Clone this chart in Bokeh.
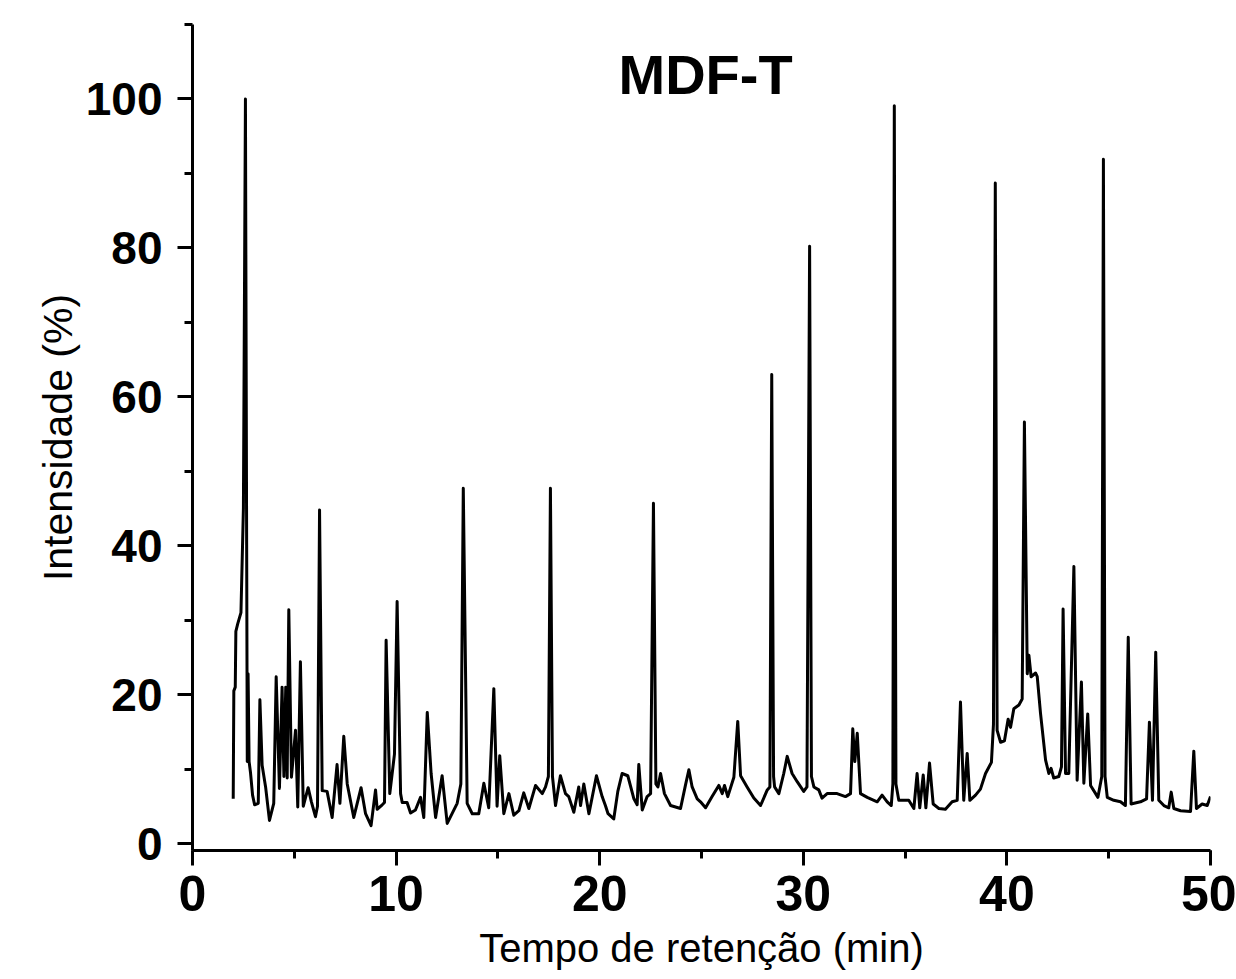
from bokeh.plotting import figure
from bokeh.models import Range1d, Label, SingleIntervalTicker
from bokeh.embed import file_html
from bokeh.resources import INLINE

# Retention time (min) and relative intensity (%)
tempo = [
    2.00, 2.03, 2.10, 2.13, 2.22, 2.38, 2.50, 2.60, 2.66, 2.69, 2.73, 2.78, 2.85, 2.95, 3.05, 3.23, 3.31,
    3.42, 3.59, 3.78, 3.99, 4.11, 4.27, 4.40, 4.49, 4.58, 4.65, 4.73, 4.86, 5.06, 5.17, 5.30,
    5.44, 5.68, 5.84, 6.04, 6.14, 6.24, 6.37, 6.61, 6.86, 7.10, 7.24, 7.43, 7.60, 7.92, 8.28,
    8.50, 8.77, 8.99, 9.07, 9.32, 9.43, 9.51, 9.69, 9.92, 10.05, 10.22, 10.30, 10.54, 10.71,
    10.95, 11.20, 11.36, 11.53, 11.72, 11.94, 12.26, 12.51, 13.00, 13.18, 13.30, 13.49, 13.74,
    14.06, 14.31, 14.55, 14.80, 14.96, 15.09, 15.29, 15.54, 15.78, 16.03, 16.27, 16.52, 16.85,
    17.18, 17.34, 17.48, 17.58, 17.68, 17.83, 18.07, 18.32, 18.48, 18.73, 18.97, 19.06, 19.22, 19.47,
    19.84, 20.12, 20.28, 20.41, 20.69, 20.89, 21.10, 21.38, 21.68, 21.84, 21.92, 22.09, 22.33,
    22.50, 22.64, 22.76, 22.86, 22.99, 23.18, 23.48, 23.97, 24.21, 24.38, 24.54, 24.79, 24.95,
    25.20, 25.52, 25.85, 26.02, 26.13, 26.29, 26.59, 26.78, 26.92, 27.24, 27.57, 27.90, 28.23,
    28.36, 28.45, 28.54, 28.59, 28.80, 29.04, 29.21, 29.45, 29.70, 30.02, 30.18, 30.31, 30.40, 30.52,
    30.76, 30.92, 31.17, 31.66, 32.07, 32.32, 32.43, 32.53, 32.65, 32.81, 33.14, 33.63, 33.87,
    34.12, 34.32, 34.40, 34.47, 34.55, 34.69, 35.18, 35.43, 35.59, 35.72, 35.89, 36.02, 36.20, 36.38,
    36.66, 36.98, 37.31, 37.56, 37.72, 37.88, 38.05, 38.18, 38.46, 38.70, 38.95, 39.24, 39.34,
    39.43, 39.52, 39.69, 39.88, 40.06, 40.18, 40.34, 40.59, 40.75, 40.86, 41.00, 41.08, 41.19,
    41.41, 41.49, 41.65, 41.90, 42.06, 42.17, 42.30, 42.55, 42.68, 42.76, 42.88, 43.04, 43.29,
    43.45, 43.66, 43.78, 43.97, 44.11, 44.47, 44.66, 44.74, 44.82, 44.93, 45.25, 45.58, 45.82, 45.96,
    46.10, 46.56, 46.86, 47.00, 47.15, 47.31, 47.46, 47.71, 47.95, 48.07, 48.20, 48.53, 49.02,
    49.18, 49.31, 49.59, 49.84, 50.00,
]
intensidade = [
    6.0, 20.5, 21.0, 28.5, 29.5, 31.0, 45.0, 100.0, 40.0, 11.0, 22.8, 11.0, 9.5, 6.5, 5.2, 5.4, 19.3,
    10.5, 7.6, 3.1, 5.4, 22.4, 7.4, 21.0, 9.0, 21.0, 8.8, 31.4, 8.9, 15.2, 4.9, 24.4,
    5.0, 7.5, 5.6, 3.6, 5.0, 44.8, 7.1, 7.0, 3.5, 10.6, 5.4, 14.4, 8.0, 3.5, 7.5,
    4.0, 2.4, 7.2, 4.6, 5.2, 5.5, 27.3, 6.7, 12.0, 32.5, 6.7, 5.5, 5.5, 4.1,
    4.5, 6.2, 3.5, 17.6, 9.4, 3.5, 9.1, 2.7, 5.4, 8.0, 47.7, 5.4, 4.0,
    4.0, 8.1, 4.8, 20.8, 5.0, 11.8, 4.0, 6.7, 3.8, 4.4, 6.8, 4.7, 7.8,
    6.7, 7.6, 9.0, 47.7, 9.0, 5.1, 9.1, 6.7, 6.3, 4.2, 7.6, 5.1, 8.0, 4.0,
    9.1, 6.3, 5.1, 4.0, 3.3, 7.0, 9.4, 9.1, 6.0, 5.2, 10.6, 4.5, 6.3,
    6.7, 45.7, 8.0, 7.6, 9.4, 6.7, 5.1, 4.7, 7.8, 9.9, 7.6, 6.0, 5.6,
    4.8, 6.3, 7.8, 6.7, 7.8, 6.3, 8.9, 16.4, 9.1, 7.6, 6.1, 5.1, 7.2,
    7.6, 63.0, 9.0, 7.6, 6.7, 9.4, 11.7, 9.4, 8.3, 7.0, 7.6, 80.2, 9.0, 7.6,
    7.2, 6.1, 6.7, 6.7, 6.3, 6.7, 15.4, 11.0, 14.8, 6.7, 6.2, 5.6, 6.5,
    5.6, 5.1, 8.0, 99.1, 8.0, 5.8, 5.8, 4.7, 9.4, 4.8, 9.2, 4.8, 10.8, 5.3,
    4.7, 4.6, 5.6, 5.8, 19.0, 5.8, 12.1, 5.8, 6.5, 7.3, 9.4, 10.9, 16.0,
    88.7, 15.2, 13.6, 13.8, 16.7, 15.6, 18.1, 18.6, 19.4, 56.6, 22.8, 25.3, 22.4,
    22.9, 22.4, 17.5, 11.2, 9.4, 10.1, 8.8, 9.0, 10.3, 31.5, 9.4, 9.4, 37.2,
    8.5, 21.7, 8.1, 17.4, 7.8, 6.2, 9.0, 91.9, 9.0, 6.2, 5.8, 5.6, 5.1, 27.7,
    5.3, 5.6, 6.0, 16.3, 5.8, 25.7, 5.8, 5.1, 4.8, 6.9, 4.7, 4.4, 4.3,
    12.4, 4.7, 5.3, 5.1, 6.3,
]

x_ticks = [0, 10, 20, 30, 40, 50]
y_ticks = [0, 20, 40, 60, 80, 100]
titulo = "MDF-T"

FONT = "Liberation Sans"

p = figure(
    output_backend="svg", toolbar_location=None,
    frame_width=1018, frame_height=826,
    min_border_left=192, min_border_top=24, min_border_right=26, min_border_bottom=120,
    x_range=Range1d(0, 50), y_range=Range1d(-0.94, 110),
    outline_line_color=None,
)
p.xgrid.visible = False
p.ygrid.visible = False

p.line(tempo, intensidade, line_color="black", line_width=3, line_join="round")

for ax in (p.xaxis[0], p.yaxis[0]):
    ax.axis_line_width = 3
    ax.axis_line_color = "black"
    ax.major_tick_line_width = 3
    ax.minor_tick_line_width = 3
    ax.major_tick_in = 0
    ax.major_tick_out = 15
    ax.minor_tick_in = 0
    ax.minor_tick_out = 8
    ax.major_label_text_font = FONT
    ax.major_label_text_font_style = "bold"
    ax.major_label_text_color = "black"
    ax.axis_label_text_font = FONT
    ax.axis_label_text_font_style = "normal"
    ax.axis_label_text_color = "black"

p.xaxis[0].ticker = SingleIntervalTicker(interval=10, num_minor_ticks=2)
p.yaxis[0].ticker = SingleIntervalTicker(interval=20, num_minor_ticks=2)
p.xaxis[0].major_label_text_font_size = "50px"
p.yaxis[0].major_label_text_font_size = "46px"
p.xaxis[0].major_label_standoff = 10
p.yaxis[0].major_label_standoff = 15
p.xaxis[0].axis_label = "Tempo de retenção (min)"
p.yaxis[0].axis_label = "Intensidade (%)"
p.xaxis[0].axis_label_text_font_size = "40px"
p.yaxis[0].axis_label_text_font_size = "41px"
p.xaxis[0].axis_label_standoff = 12
p.yaxis[0].axis_label_standoff = 2

p.add_layout(Label(x=25.2, y=103.3, text=titulo, text_align="center",
                   text_baseline="alphabetic", text_font=FONT,
                   text_font_style="bold", text_font_size="56px",
                   text_color="black"))

open("out.html", "w").write(file_html(p, INLINE))
